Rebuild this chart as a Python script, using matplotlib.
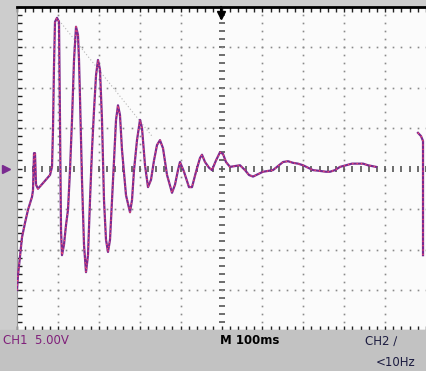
import numpy as np
import matplotlib
matplotlib.use('Agg')
import matplotlib.pyplot as plt

# CH1 trace: time (ms) and voltage (V), 5 V/div, 100 ms/div
t_ms = [0, 2.4, 7.3, 12.2, 19.6, 26.9, 36.7, 39.1, 41.6, 44.0, 46.5, 51.3, 63.6, 80.7,
        85.6, 88.0, 90.5, 92.9, 97.8, 102.7, 105.1, 107.6, 110.0, 114.9, 119.8, 124.7,
        129.6, 134.5, 139.4, 144.3, 149.1, 151.6, 154.0, 158.9, 163.8, 168.7, 173.6,
        178.5, 183.4, 188.3, 193.2, 198.0, 202.9, 207.8, 212.7, 217.6, 222.5, 227.4,
        232.3, 237.2, 242.1, 246.9, 251.8, 256.7, 266.5, 276.3, 281.2, 286.1, 293.4,
        300.7, 305.6, 313.0, 320.3, 327.6, 335.0, 342.3, 349.6, 357.0, 366.8, 379.0,
        386.3, 393.6, 398.5, 408.3, 420.5, 427.9, 437.7, 447.4, 452.3, 459.7, 469.4,
        476.8, 486.6, 496.3, 503.7, 511.0, 520.8, 533.0, 545.2, 557.5, 567.2, 577.0,
        589.2, 601.5, 613.7, 625.9, 638.1, 650.4, 662.6, 674.8, 687.0, 699.3, 711.5,
        723.7, 740.8, 755.5, 765.3, 777.5, 789.7, 804.4, 819.1, 833.7, 846.0, 858.2,
        868.0, 877.8]
volts = [-15.0, -13.2, -10.9, -8.5, -6.7, -5.1, -3.5, -2.7, 1.9, 1.9, -2.0, -2.5, -1.8, -0.8,
         0.2, 4.8, 12.8, 18.1, 18.6, 18.1, 6.0, -7.6, -10.7, -9.4, -7.0, -5.1,
         -0.2, 6.0, 13.4, 17.5, 16.5, 13.4, 8.8, -1.4, -9.4, -12.8, -10.7,
         -3.9, 2.3, 7.2, 11.5, 13.4, 12.2, 6.0, -3.9, -8.8, -10.3, -8.8,
         -3.9, 1.0, 6.0, 7.8, 6.6, 2.3, -3.3, -5.4, -3.9, -0.2, 3.5,
         6.0, 5.0, 0.4, -2.3, -1.4, 1.0, 2.9, 3.5, 2.5, -0.8, -3.0,
         -2.0, -0.2, 0.8, -0.4, -2.3, -2.3, -0.4, 1.3, 1.7, 0.8, 0.1,
         -0.2, 1.0, 2.0, 1.8, 0.8, 0.2, 0.3, 0.4, -0.2, -0.8, -1.0,
         -0.7, -0.4, -0.3, -0.2, 0.3, 0.8, 0.9, 0.7, 0.6, 0.4, 0.1,
         -0.2, -0.3, -0.4, -0.4, -0.2, 0.2, 0.4, 0.6, 0.6, 0.6, 0.4,
         0.3, 0.2]

# start of the next sweep at the right edge
t2_ms = [980.4, 987.8, 992.7, 992.7]
volts2 = [4.4, 4.0, 3.4, -10.7]

# faint ghost envelope
env_t = [97.8, 330.0]
env_v = [18.6, 4.0]

W, H = 426, 371
fig = plt.figure(figsize=(W / 100, H / 100), dpi=100, facecolor='#cdcdcd')

# bottom status bar
fig.patches.append(plt.Rectangle((0, 0), 1, 41 / H, transform=fig.transFigure,
                                 color='#c2c2c2', zorder=0))

ax = fig.add_axes([17 / W, 40.5 / H, 409 / W, 324 / H])
ax.set_facecolor('#fbfbfb')
ax.set_xlim(0, 1000)
ax.set_ylim(-20, 20)

# dotted graticule
dot_x = np.arange(0, 1001, 20)
dot_y = np.arange(-20, 20.1, 1)
for gx in range(100, 1000, 100):
    if gx == 500:
        ax.plot([gx] * len(dot_y), dot_y, ls='none', marker='_', ms=4, mew=1.2, color='#555555')
    else:
        ax.plot([gx] * len(dot_y), dot_y, ls='none', marker='s', ms=1.2, mew=0, color='#8a8a8a')
for gy in range(-15, 20, 5):
    if gy == 0:
        ax.plot(dot_x, [gy] * len(dot_x), ls='none', marker='|', ms=4, mew=1.2, color='#555555')
    else:
        ax.plot(dot_x, [gy] * len(dot_x), ls='none', marker='s', ms=1.2, mew=0, color='#8a8a8a')

ax.plot(env_t, env_v, color='#999999', lw=0.8, ls=(0, (1, 2)), alpha=0.7)

# trace: purple with reddish dots on top
ax.plot(t_ms, volts, color='#7a2a90', lw=1.6, zorder=5)
ax.plot(t_ms, volts, color='#ff4a6a', lw=0.9, ls=(0, (1, 2.5)), zorder=6)
ax.plot(t2_ms, volts2, color='#7a2a90', lw=1.6, zorder=5)
ax.plot(t2_ms, volts2, color='#ff4a6a', lw=0.9, ls=(0, (1, 2.5)), zorder=6)

# trigger position arrow and ground marker
ax.plot([499, 499], [20, 18.6], color='black', lw=1.5, clip_on=False, zorder=7)
ax.plot([499], [18.9], marker='v', color='black', ms=6, clip_on=False, zorder=7)
ax.plot([-26], [0], marker='>', color='#7a2a90', ms=6, clip_on=False, zorder=7)

ax.set_xticks(np.arange(0, 1001, 20))
ax.set_yticks(np.arange(-20, 20.1, 1))
ax.tick_params(direction='in', length=3.5, width=1, colors='#222222',
               top=True, bottom=True, left=True, right=False,
               labelbottom=False, labelleft=False)
ax.spines['top'].set_linewidth(2)
ax.spines['top'].set_color('black')
ax.spines['bottom'].set_linewidth(1.5)
ax.spines['bottom'].set_color('#222222')
ax.spines['left'].set_color('#999999')
ax.spines['right'].set_visible(False)

fig.text(3 / W, 30 / H, 'CH1  5.00V', color='#80207a', fontsize=8.5, va='center', ha='left')
fig.text(220 / W, 30 / H, 'M 100ms', color='black', fontsize=8.5, fontweight='bold',
         va='center', ha='left')
fig.text(365 / W, 30 / H, 'CH2 \u2215', color='#1c1c40', fontsize=8.5, va='center', ha='left')
fig.text(376 / W, 9 / H, '<10Hz', color='#1c1c40', fontsize=8.5, va='center', ha='left')

fig.savefig('out.png', dpi=100, facecolor=fig.get_facecolor())
